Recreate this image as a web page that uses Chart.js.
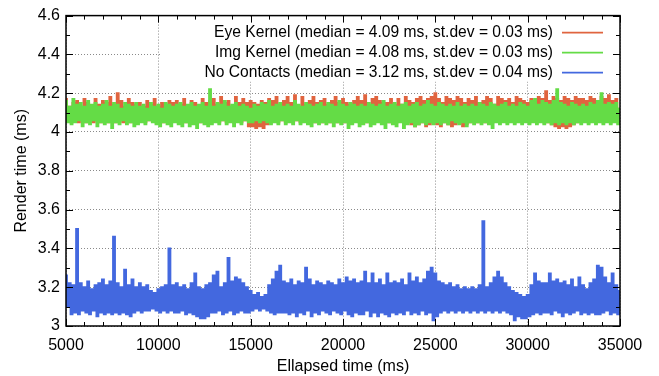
<!DOCTYPE html>
<html>
<head>
<meta charset="utf-8">
<script src="https://cdn.jsdelivr.net/npm/chart.js@4.4.0/dist/chart.umd.min.js"></script>
<style>
  html, body { margin: 0; padding: 0; background: #fff; }
  canvas { display: block; }
</style>
</head>
<body>
<canvas id="render-chart" width="659" height="376" style="width:659px;height:376px"></canvas>
<script>
// frame times every 100 ms from 5000 to 35000 ms
var sampleStart = 5000;
var sampleStep = 100;

var seriesNames = [
    "Eye Kernel (median = 4.09 ms, st.dev = 0.03 ms)",
    "Img Kernel (median = 4.08 ms, st.dev = 0.03 ms)",
    "No Contacts (median = 3.12 ms, st.dev = 0.04 ms)"
];

var eyeKernel = [
    4.17, 4.06, 4.13, 4.05, 4.15, 4.06, 4.16, 4.05, 4.13, 4.06, 4.17, 4.05, 4.15, 4.06, 4.13, 4.05, 4.17, 4.06, 4.14, 4.05,
    4.16, 4.06, 4.15, 4.05, 4.18, 4.06, 4.14, 4.05, 4.20, 4.06, 4.16, 4.05, 4.13, 4.06, 4.17, 4.05, 4.15, 4.06, 4.14, 4.05,
    4.15, 4.06, 4.13, 4.05, 4.16, 4.06, 4.14, 4.06, 4.17, 4.05, 4.13, 4.06, 4.15, 4.05, 4.14, 4.06, 4.16, 4.05, 4.15, 4.06,
    4.16, 4.05, 4.14, 4.06, 4.17, 4.05, 4.13, 4.06, 4.16, 4.05, 4.15, 4.06, 4.13, 4.05, 4.17, 4.06, 4.15, 4.05, 4.16, 4.06,
    4.17, 4.06, 4.14, 4.05, 4.18, 4.06, 4.15, 4.05, 4.16, 4.06, 4.13, 4.05, 4.18, 4.06, 4.15, 4.05, 4.17, 4.06, 4.15, 4.03,
    4.16, 4.03, 4.15, 4.02, 4.14, 4.03, 4.16, 4.02, 4.15, 4.04, 4.17, 4.05, 4.16, 4.06, 4.18, 4.05, 4.14, 4.06, 4.16, 4.05,
    4.18, 4.06, 4.15, 4.05, 4.19, 4.06, 4.13, 4.05, 4.18, 4.06, 4.14, 4.05, 4.16, 4.06, 4.18, 4.05, 4.15, 4.06, 4.16, 4.05,
    4.17, 4.06, 4.14, 4.05, 4.16, 4.06, 4.18, 4.05, 4.15, 4.06, 4.17, 4.05, 4.15, 4.06, 4.14, 4.05, 4.16, 4.06, 4.18, 4.05,
    4.16, 4.06, 4.19, 4.05, 4.14, 4.06, 4.17, 4.05, 4.18, 4.06, 4.16, 4.05, 4.15, 4.06, 4.15, 4.05, 4.17, 4.06, 4.14, 4.05,
    4.17, 4.06, 4.14, 4.05, 4.18, 4.06, 4.16, 4.04, 4.15, 4.03, 4.17, 4.04, 4.18, 4.05, 4.16, 4.03, 4.17, 4.04, 4.18, 4.05,
    4.20, 4.04, 4.17, 4.03, 4.15, 4.05, 4.18, 4.04, 4.17, 4.03, 4.16, 4.04, 4.18, 4.05, 4.17, 4.03, 4.15, 4.04, 4.17, 4.05,
    4.16, 4.06, 4.18, 4.05, 4.15, 4.06, 4.16, 4.05, 4.18, 4.06, 4.17, 4.05, 4.14, 4.06, 4.18, 4.05, 4.17, 4.06, 4.16, 4.05,
    4.17, 4.06, 4.15, 4.05, 4.18, 4.06, 4.17, 4.05, 4.16, 4.06, 4.15, 4.05, 4.17, 4.06, 4.16, 4.05, 4.18, 4.06, 4.17, 4.05,
    4.21, 4.05, 4.16, 4.04, 4.18, 4.03, 4.17, 4.02, 4.16, 4.03, 4.18, 4.02, 4.17, 4.03, 4.16, 4.04, 4.18, 4.05, 4.17, 4.06,
    4.17, 4.06, 4.16, 4.05, 4.18, 4.06, 4.17, 4.05, 4.16, 4.06, 4.18, 4.05, 4.17, 4.06, 4.19, 4.05, 4.16, 4.06, 4.17, 4.05,
    4.12
];

var imgKernel = [
    4.16, 4.05, 4.13, 4.04, 4.17, 4.05, 4.14, 4.06, 4.15, 4.03, 4.13, 4.05, 4.16, 4.04, 4.14, 4.06, 4.15, 4.03, 4.13, 4.05,
    4.14, 4.04, 4.16, 4.05, 4.13, 4.02, 4.15, 4.05, 4.14, 4.04, 4.12, 4.06, 4.15, 4.04, 4.14, 4.05, 4.13, 4.03, 4.15, 4.04,
    4.13, 4.05, 4.14, 4.04, 4.12, 4.06, 4.15, 4.05, 4.13, 4.04, 4.14, 4.03, 4.12, 4.05, 4.15, 4.04, 4.14, 4.03, 4.13, 4.05,
    4.14, 4.04, 4.15, 4.03, 4.13, 4.05, 4.14, 4.03, 4.15, 4.04, 4.13, 4.02, 4.14, 4.05, 4.15, 4.04, 4.13, 4.03, 4.22, 4.04,
    4.13, 4.05, 4.15, 4.04, 4.14, 4.06, 4.16, 4.04, 4.13, 4.05, 4.14, 4.03, 4.15, 4.05, 4.13, 4.04, 4.14, 4.06, 4.13, 4.05,
    4.12, 4.05, 4.14, 4.06, 4.13, 4.05, 4.15, 4.06, 4.14, 4.05, 4.16, 4.04, 4.13, 4.05, 4.14, 4.04, 4.15, 4.06, 4.13, 4.04,
    4.14, 4.05, 4.13, 4.04, 4.16, 4.06, 4.14, 4.04, 4.13, 4.05, 4.15, 4.04, 4.14, 4.03, 4.13, 4.05, 4.14, 4.04, 4.15, 4.05,
    4.13, 4.04, 4.15, 4.05, 4.14, 4.03, 4.13, 4.05, 4.16, 4.04, 4.14, 4.05, 4.13, 4.02, 4.15, 4.04, 4.14, 4.05, 4.13, 4.03,
    4.14, 4.04, 4.13, 4.05, 4.15, 4.03, 4.14, 4.04, 4.13, 4.05, 4.14, 4.04, 4.16, 4.02, 4.13, 4.05, 4.14, 4.04, 4.15, 4.03,
    4.13, 4.05, 4.14, 4.02, 4.15, 4.04, 4.13, 4.05, 4.14, 4.03, 4.15, 4.04, 4.13, 4.05, 4.14, 4.04, 4.16, 4.05, 4.14, 4.04,
    4.13, 4.05, 4.15, 4.04, 4.14, 4.05, 4.13, 4.04, 4.14, 4.06, 4.13, 4.05, 4.15, 4.04, 4.13, 4.05, 4.14, 4.03, 4.13, 4.05,
    4.14, 4.04, 4.13, 4.05, 4.15, 4.04, 4.14, 4.05, 4.13, 4.04, 4.15, 4.02, 4.14, 4.05, 4.13, 4.04, 4.14, 4.05, 4.15, 4.04,
    4.13, 4.05, 4.14, 4.04, 4.13, 4.05, 4.15, 4.04, 4.14, 4.05, 4.13, 4.04, 4.16, 4.05, 4.17, 4.04, 4.14, 4.05, 4.16, 4.04,
    4.15, 4.05, 4.14, 4.04, 4.16, 4.05, 4.22, 4.04, 4.15, 4.05, 4.14, 4.04, 4.13, 4.05, 4.15, 4.04, 4.14, 4.05, 4.13, 4.04,
    4.14, 4.05, 4.13, 4.04, 4.15, 4.05, 4.14, 4.04, 4.16, 4.05, 4.20, 4.04, 4.14, 4.05, 4.15, 4.04, 4.14, 4.05, 4.15, 4.04,
    4.12
];

var noContacts = [
    3.26, 3.10, 3.22, 3.06, 3.21, 3.07, 3.50, 3.06, 3.22, 3.08, 3.20, 3.07, 3.23, 3.06, 3.19, 3.08, 3.21, 3.05, 3.22, 3.07,
    3.24, 3.06, 3.21, 3.07, 3.23, 3.06, 3.46, 3.07, 3.22, 3.06, 3.20, 3.07, 3.29, 3.06, 3.21, 3.05, 3.24, 3.07, 3.20, 3.08,
    3.22, 3.07, 3.20, 3.08, 3.21, 3.08, 3.18, 3.09, 3.17, 3.08, 3.19, 3.07, 3.20, 3.08, 3.21, 3.07, 3.40, 3.08, 3.21, 3.07,
    3.22, 3.07, 3.20, 3.08, 3.21, 3.06, 3.19, 3.07, 3.22, 3.06, 3.27, 3.05, 3.20, 3.04, 3.19, 3.04, 3.21, 3.05, 3.22, 3.07,
    3.26, 3.07, 3.28, 3.08, 3.20, 3.06, 3.22, 3.07, 3.35, 3.08, 3.23, 3.06, 3.25, 3.07, 3.24, 3.08, 3.22, 3.07, 3.20, 3.07,
    3.18, 3.08, 3.16, 3.09, 3.17, 3.08, 3.15, 3.09, 3.16, 3.08, 3.21, 3.07, 3.24, 3.06, 3.28, 3.07, 3.31, 3.07, 3.23, 3.07,
    3.22, 3.06, 3.24, 3.07, 3.21, 3.05, 3.23, 3.07, 3.22, 3.06, 3.30, 3.08, 3.24, 3.05, 3.21, 3.07, 3.23, 3.06, 3.22, 3.08,
    3.21, 3.07, 3.23, 3.06, 3.22, 3.08, 3.21, 3.07, 3.24, 3.06, 3.22, 3.08, 3.25, 3.06, 3.23, 3.05, 3.24, 3.07, 3.22, 3.06,
    3.23, 3.06, 3.28, 3.08, 3.22, 3.05, 3.27, 3.07, 3.22, 3.05, 3.24, 3.07, 3.21, 3.06, 3.27, 3.05, 3.22, 3.07, 3.23, 3.06,
    3.22, 3.07, 3.24, 3.06, 3.21, 3.08, 3.27, 3.06, 3.23, 3.07, 3.25, 3.06, 3.22, 3.08, 3.24, 3.06, 3.28, 3.07, 3.30, 3.03,
    3.27, 3.05, 3.23, 3.07, 3.22, 3.08, 3.21, 3.07, 3.22, 3.08, 3.20, 3.07, 3.21, 3.08, 3.19, 3.07, 3.20, 3.08, 3.19, 3.07,
    3.20, 3.08, 3.19, 3.07, 3.21, 3.08, 3.54, 3.07, 3.20, 3.08, 3.22, 3.07, 3.25, 3.08, 3.28, 3.07, 3.25, 3.08, 3.22, 3.07,
    3.20, 3.06, 3.18, 3.03, 3.17, 3.05, 3.16, 3.04, 3.15, 3.04, 3.16, 3.05, 3.21, 3.06, 3.27, 3.07, 3.23, 3.06, 3.22, 3.07,
    3.22, 3.07, 3.27, 3.06, 3.23, 3.08, 3.24, 3.07, 3.22, 3.05, 3.23, 3.07, 3.21, 3.06, 3.24, 3.07, 3.20, 3.08, 3.25, 3.06,
    3.21, 3.07, 3.19, 3.06, 3.22, 3.07, 3.24, 3.06, 3.31, 3.06, 3.30, 3.07, 3.25, 3.08, 3.22, 3.06, 3.27, 3.07, 3.21, 3.06,
    3.18
];

var xTicks = [5000, 10000, 15000, 20000, 25000, 30000, 35000];
var yTicks = [3, 3.2, 3.4, 3.6, 3.8, 4, 4.2, 4.4, 4.6];

var colors = ["#e0643f", "#64dc46", "#4368df"];
var FONT = "'Liberation Sans', Arial, sans-serif";

function toPoints(values) {
    return values.map(function (v, i) { return { x: sampleStart + i * sampleStep, y: v }; });
}

// gnuplot-like key inside the plot, white box behind it, border and inward tics
var gnuplotFrame = {
    id: "gnuplotFrame",
    beforeDatasetsDraw: function (chart) {
        var ctx = chart.ctx, a = chart.chartArea;
        ctx.save();
        ctx.font = "15.6px " + FONT;
        var w = 0;
        seriesNames.forEach(function (s) { w = Math.max(w, ctx.measureText(s).width); });
        var textRight = a.right - 67;
        ctx.fillStyle = "#fff";
        ctx.fillRect(textRight - w - 44, a.top + 1, a.right - (textRight - w - 44) - 1, 65);
        ctx.restore();
    },
    afterDraw: function (chart) {
        var ctx = chart.ctx, a = chart.chartArea;
        var xs = chart.scales.x, ys = chart.scales.y;
        ctx.save();
        ctx.strokeStyle = "#000";
        ctx.lineWidth = 1;
        ctx.beginPath();
        for (var v = xs.min; v <= xs.max; v += 1000) {
            var px = Math.round(xs.getPixelForValue(v)) + 0.5;
            var len = xTicks.indexOf(v) >= 0 ? 7 : 4;
            ctx.moveTo(px, a.bottom); ctx.lineTo(px, a.bottom - len);
            ctx.moveTo(px, a.top); ctx.lineTo(px, a.top + len);
        }
        for (var k = 0; k <= 16; k++) {
            var py = Math.round(ys.getPixelForValue(3 + k * 0.1)) + 0.5;
            var l2 = k % 2 === 0 ? 7 : 4;
            ctx.moveTo(a.left, py); ctx.lineTo(a.left + l2, py);
            ctx.moveTo(a.right, py); ctx.lineTo(a.right - l2, py);
        }
        ctx.stroke();
        ctx.lineWidth = 1.5;
        ctx.strokeRect(a.left, a.top, a.right - a.left, a.bottom - a.top);

        // key
        ctx.font = "15.6px " + FONT;
        ctx.fillStyle = "#000";
        ctx.textAlign = "right";
        ctx.textBaseline = "middle";
        seriesNames.forEach(function (s, i) {
            var y = a.top + 17 + i * 20;
            ctx.fillText(s, a.right - 67, y);
            ctx.strokeStyle = colors[i];
            ctx.lineWidth = 1.6;
            ctx.beginPath();
            ctx.moveTo(a.right - 58, y);
            ctx.lineTo(a.right - 17, y);
            ctx.stroke();
        });
        ctx.restore();
    }
};

var ctx = document.getElementById("render-chart").getContext("2d");

var data = {
    datasets: [
        { label: seriesNames[0], data: toPoints(eyeKernel), borderColor: colors[0], order: 3 },
        { label: seriesNames[1], data: toPoints(imgKernel), borderColor: colors[1], order: 2 },
        { label: seriesNames[2], data: toPoints(noContacts), borderColor: colors[2], order: 1 }
    ]
};
// stepped lines give the vertical "impulse" look of the dense gnuplot trace
data.datasets.forEach(function (d) {
    d.borderWidth = 2;
    d.pointRadius = 0;
    d.stepped = "middle";
    d.fill = false;
});

var options = {
    responsive: false,
    animation: false,
    events: [],
    layout: { padding: { left: 0, right: 39, top: 12, bottom: 0 } },
    plugins: { legend: { display: false }, tooltip: { enabled: false } },
    scales: {
        x: {
            type: "linear",
            min: 5000,
            max: 35000,
            afterBuildTicks: function (s) { s.ticks = xTicks.map(function (v) { return { value: v }; }); },
            afterFit: function (s) { s.height = 50; },
            grid: { color: "#8a8a8a", lineWidth: 1, drawTicks: false },
            border: { display: false, dash: [1, 2] },
            ticks: {
                color: "#000", padding: 10, maxRotation: 0, autoSkip: false,
                font: { family: FONT, size: 16 },
                callback: function (v) { return String(v); }
            },
            title: {
                display: true, text: "Ellapsed time (ms)", color: "#000",
                font: { family: FONT, size: 16 }, padding: { top: 0, bottom: 0 }
            }
        },
        y: {
            type: "linear",
            min: 3,
            max: 4.6,
            afterBuildTicks: function (s) { s.ticks = yTicks.map(function (v) { return { value: v }; }); },
            afterFit: function (s) { s.width = 66; },
            grid: { color: "#8a8a8a", lineWidth: 1, drawTicks: false },
            border: { display: false, dash: [1, 2] },
            ticks: {
                color: "#000", padding: 6,
                font: { family: FONT, size: 16 },
                callback: function (v) { return String(v); }
            },
            title: {
                display: true, text: "Render time (ms)", color: "#000",
                font: { family: FONT, size: 16 }, padding: { top: 12, bottom: 0 }
            }
        }
    }
};

var renderChart = new Chart(ctx, {
    type: "line",
    data: data,
    options: options,
    plugins: [gnuplotFrame]
});
</script>
</body>
</html>
